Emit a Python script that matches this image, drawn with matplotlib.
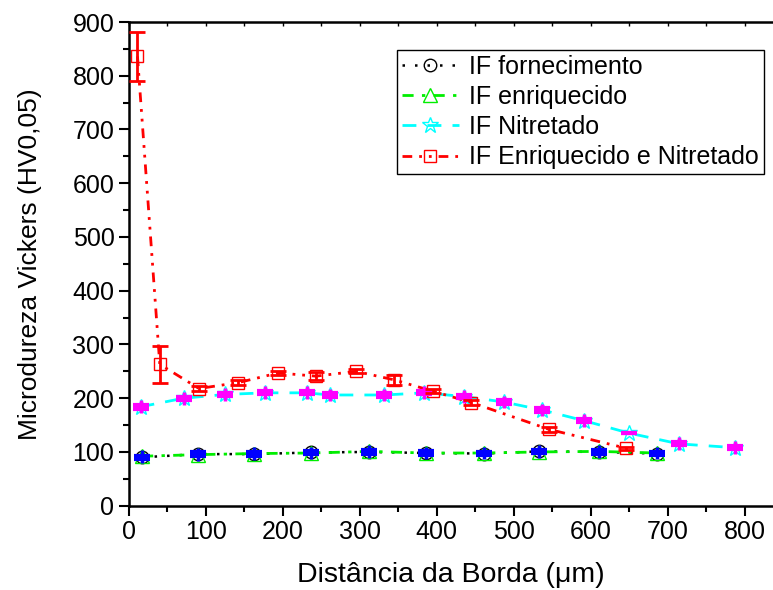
import matplotlib
matplotlib.use("Agg")
import matplotlib.pyplot as plt
from matplotlib.ticker import MultipleLocator

plt.rcParams['font.family'] = ['Liberation Sans', 'DejaVu Sans']

# IF fornecimento / IF enriquecido (mesmos pontos de medida)
x_forn = [17, 90, 162, 237, 312, 386, 461, 533, 611, 686]
y_forn = [90, 96, 96, 99, 100, 98, 97, 101, 100, 97]
y_enr = [92, 95, 97, 98, 101, 98, 98, 100, 101, 98]
e_forn = [3, 3, 3, 3, 3, 3, 3, 3, 3, 3]
e_enr = [12, 12, 12, 12, 12, 12, 12, 12, 12, 12]

# IF Nitretado
x_nit = [15, 71, 125, 177, 231, 261, 332, 384, 436, 487, 537, 592, 650, 715, 787]
y_nit = [184, 200, 207, 210, 210, 206, 206, 210, 203, 193, 178, 158, 135, 115, 108]
e_nit = [4, 3, 3, 3, 3, 3, 3, 3, 3, 3, 3, 3, 0, 3, 3]
e_nit2 = [12, 12, 12, 12, 12, 12, 12, 12, 12, 12, 12, 12, 0, 12, 12]

# IF Enriquecido e Nitretado
x_en = [11, 40, 91, 142, 194, 243, 295, 345, 395, 445, 546, 646]
y_en = [836, 263, 218, 229, 247, 241, 250, 234, 213, 192, 142, 107]
e_en = [45, 34, 5, 5, 4, 7, 4, 10, 4, 4, 4, 3]

fig = plt.figure(figsize=(7.73, 5.9), dpi=100)
ax = fig.add_axes([0.1669, 0.1429, 0.8331, 0.8198])

ax.plot(x_forn, y_forn, color='black', linestyle=(0, (1, 4)), lw=1.8,
        marker='o', ms=9, mfc='none', mec='black', mew=1, label='IF fornecimento')
ax.plot(x_forn, y_enr, color='#00ee00', linestyle=(0, (4, 3, 1.2, 3)), lw=2,
        marker='^', ms=10, mfc='none', mec='#00ee00', mew=1, label='IF enriquecido')
ax.plot(x_nit, y_nit, color='cyan', linestyle=(0, (5, 4)), lw=2,
        marker='*', ms=12, mfc='none', mec='cyan', mew=1, label='IF Nitretado')
ax.plot(x_en, y_en, color='red', linestyle=(0, (3.5, 2.5, 1, 2.5, 1, 2.5)), lw=2,
        marker='s', ms=9, mfc='none', mec='red', mew=1,
        label='IF Enriquecido e Nitretado')

# barras de erro
ax.errorbar(x_forn, y_forn, yerr=e_forn, fmt='none', ecolor='blue', elinewidth=2,
            capsize=6, capthick=3, zorder=4)
ax.errorbar(x_forn, y_enr, yerr=e_enr, fmt='none', ecolor='blue', elinewidth=2.5,
            capsize=0, zorder=4)
ax.errorbar(x_nit, y_nit, yerr=e_nit, fmt='none', ecolor='magenta', elinewidth=2,
            capsize=6, capthick=3, zorder=4)
ax.errorbar(x_nit, y_nit, yerr=e_nit2, fmt='none', ecolor='magenta', elinewidth=2.5,
            capsize=0, zorder=4)
ax.errorbar(x_en, y_en, yerr=e_en, fmt='none', ecolor='red', elinewidth=2,
            capsize=6, capthick=2, zorder=4)

ax.set_xlim(0, 837)
ax.set_ylim(0, 900)
ax.xaxis.set_major_locator(MultipleLocator(100))
ax.xaxis.set_minor_locator(MultipleLocator(50))
ax.yaxis.set_major_locator(MultipleLocator(100))
ax.yaxis.set_minor_locator(MultipleLocator(50))
ax.tick_params(which='major', direction='out', length=7, width=1.5, labelsize=18)
ax.tick_params(which='minor', direction='out', length=4, width=1.5)
ax.spines['right'].set_visible(False)
for s in ['left', 'bottom', 'top']:
    ax.spines[s].set_linewidth(1.8)

# marcas pequenas para dentro no eixo superior
top = ax.secondary_xaxis('top')
top.xaxis.set_major_locator(MultipleLocator(50))
top.tick_params(direction='in', length=3, width=1, labeltop=False)
top.spines['top'].set_visible(False)

ax.set_xlabel('Distância da Borda (μm)', fontsize=20.5, labelpad=13)
ax.set_ylabel('Microdureza Vickers (HV0,05)', fontsize=19, labelpad=22)

leg = ax.legend(loc='upper right', bbox_to_anchor=(0.986, 0.943), fontsize=18,
                frameon=True, fancybox=False, edgecolor='black', framealpha=1,
                handlelength=2.3, handletextpad=0.4, borderpad=0.2, labelspacing=0.25,
                borderaxespad=0)
leg.get_frame().set_linewidth(1)

fig.savefig('out.png', dpi=100)
